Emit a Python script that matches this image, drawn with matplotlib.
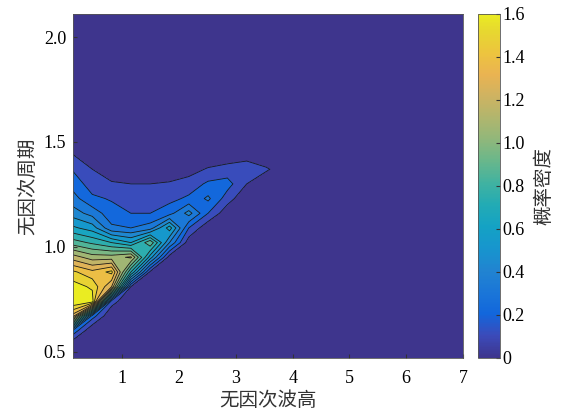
import numpy as np
import matplotlib
matplotlib.use("Agg")
import matplotlib.pyplot as plt
from matplotlib.colors import LinearSegmentedColormap, Normalize
from matplotlib.cm import ScalarMappable

# Bin centres of the joint distribution
wave_height = [0.13, 0.47, 0.81, 1.15, 1.49, 1.83, 2.17, 2.51, 2.85, 3.19, 3.53, 3.87]
wave_period = [0.46, 0.53, 0.60, 0.67, 0.74, 0.81, 0.88, 0.95,
               1.02, 1.09, 1.16, 1.23, 1.30, 1.37, 1.44, 1.51]

# Joint probability density, one list per wave-height bin (bottom -> top in period)
dens_h013 = [0, 0, 0.27, 1.25, 1.60, 1.55, 1.42, 1.15, 0.85, 0.62, 0.45, 0.34, 0.26, 0.19, 0.10, 0.03]
dens_h047 = [0, 0, 0, 0.25, 1.56, 1.48, 1.33, 1.05, 0.78, 0.55, 0.36, 0.22, 0.15, 0.10, 0.04, 0]
dens_h081 = [0, 0, 0, 0, 0.15, 1.20, 1.43, 1.05, 0.70, 0.32, 0.24, 0.19, 0.11, 0.05, 0.01, 0]
dens_h115 = [0, 0, 0, 0, 0, 0.10, 0.70, 1.12, 0.60, 0.30, 0.20, 0.15, 0.10, 0.04, 0, 0]
dens_h149 = [0, 0, 0, 0, 0, 0, 0.08, 0.55, 0.88, 0.35, 0.20, 0.15, 0.10, 0.03, 0, 0]
dens_h183 = [0, 0, 0, 0, 0, 0, 0, 0.05, 0.40, 0.65, 0.26, 0.17, 0.11, 0.04, 0, 0]
dens_h217 = [0, 0, 0, 0, 0, 0, 0, 0, 0.04, 0.20, 0.44, 0.22, 0.14, 0.06, 0, 0]
dens_h251 = [0, 0, 0, 0, 0, 0, 0, 0, 0, 0.02, 0.20, 0.32, 0.22, 0.11, 0.02, 0]
dens_h285 = [0, 0, 0, 0, 0, 0, 0, 0, 0, 0, 0.03, 0.15, 0.24, 0.14, 0.03, 0]
dens_h319 = [0, 0, 0, 0, 0, 0, 0, 0, 0, 0, 0, 0.01, 0.10, 0.15, 0.06, 0]
dens_h353 = [0, 0, 0, 0, 0, 0, 0, 0, 0, 0, 0, 0, 0.05, 0.11, 0.04, 0]
dens_h387 = [0, 0, 0, 0, 0, 0, 0, 0, 0, 0, 0, 0, 0.02, 0.06, 0.04, 0.01]

x_ticks = [1, 2, 3, 4, 5, 6, 7]
y_ticks = [0.5, 1.0, 1.5, 2.0]
cbar_ticks = [0, 0.2, 0.4, 0.6, 0.8, 1.0, 1.2, 1.4, 1.6]
x_label = "无因次波高"
y_label = "无因次周期"
cbar_label = "概率密度"

# parula-like colormap, slightly softened
parula_rgb = np.array([
    (0.2081, 0.1663, 0.5292), (0.1959, 0.2645, 0.7279), (0.0117, 0.3875, 0.8820),
    (0.0498, 0.4586, 0.8641), (0.0793, 0.5200, 0.8312), (0.0343, 0.5966, 0.8199),
    (0.0228, 0.6535, 0.7768), (0.0843, 0.6928, 0.7062), (0.2178, 0.7250, 0.6193),
    (0.3953, 0.7459, 0.5244), (0.5709, 0.7485, 0.4494), (0.7184, 0.7411, 0.3905),
    (0.8507, 0.7299, 0.3360), (0.9739, 0.7314, 0.2666), (0.9880, 0.8066, 0.1794),
    (0.9589, 0.8949, 0.1132), (0.9763, 0.9831, 0.0538)])
parula_rgb = 0.88 * parula_rgb + 0.12 * np.array([0.5, 0.5, 0.72])
parula_pos = [0, 4, 8, 12, 16, 20, 24, 28, 32, 36, 40, 44, 48, 52, 56, 60, 63]
parula = LinearSegmentedColormap.from_list(
    "parula", [(p / 63.0, tuple(c)) for p, c in zip(parula_pos, parula_rgb)], N=256)

serif = "Liberation Serif"
cjk = ["Noto Sans CJK SC", "DejaVu Sans"]

# Assemble the density grid; the region outside the data is zero density
columns = [dens_h013, dens_h047, dens_h081, dens_h115, dens_h149, dens_h183,
           dens_h217, dens_h251, dens_h285, dens_h319, dens_h353, dens_h387]
Z = np.array(columns).T
xs = np.array(wave_height + [4.21, 7.0])
ys = np.array(wave_period + [2.11])
Z = np.pad(Z, ((0, 1), (0, 2)))
X, Y = np.meshgrid(xs, ys)

fig = plt.figure(figsize=(5.71, 4.17), dpi=100)
ax = fig.add_axes([0.1278, 0.1415, 0.6831, 0.825])
cax = fig.add_axes([0.8371, 0.1415, 0.0385, 0.825])

levels = np.round(np.arange(0, 1.61, 0.1), 2)
norm = Normalize(vmin=0, vmax=1.6)
# bands are spread evenly over the colormap, lowest band darkest, top band yellow
n_bands = len(levels) - 1
band_colors = [parula(i / (n_bands - 1)) for i in range(n_bands)]
ax.set_facecolor(parula(0.0))
ax.contourf(X, Y, Z, levels=levels, colors=band_colors)
ax.contour(X, Y, Z, levels=levels[1:-1], colors="#1a1a1a", linewidths=0.6)

ax.set_xlim(0.13, 7.0)
ax.set_ylim(0.47, 2.11)
ax.set_xticks(x_ticks)
ax.set_xticklabels([str(t) for t in x_ticks], fontfamily=serif, fontsize=13)
ax.set_yticks(y_ticks)
ax.set_yticklabels([f"{t:.1f}" for t in y_ticks], fontfamily=serif, fontsize=13)
ax.tick_params(direction="in", length=3, color="#333333")
ax.tick_params(axis="x", pad=9)
ax.tick_params(axis="y", pad=5)
for s in ax.spines.values():
    s.set_color("#555555")
    s.set_linewidth(0.6)
ax.set_xlabel(x_label, fontfamily=cjk, fontsize=14, color="#333333", labelpad=2)
ax.set_ylabel(y_label, fontfamily=cjk, fontsize=14, color="#333333", labelpad=4)

cb = fig.colorbar(ScalarMappable(norm=norm, cmap=parula), cax=cax)
cb.set_ticks(cbar_ticks)
cb.set_ticklabels(["0" if t == 0 else f"{t:.1f}" for t in cbar_ticks])
for lab in cax.get_yticklabels():
    lab.set_fontfamily(serif)
    lab.set_fontsize(13)
cax.tick_params(direction="in", length=3, pad=2, color="#333333")
cb.outline.set_edgecolor("#555555")
cb.outline.set_linewidth(0.6)
cb.set_label(cbar_label, fontfamily=cjk, fontsize=14, color="#333333", labelpad=6)

fig.savefig("out.png", dpi=100)
